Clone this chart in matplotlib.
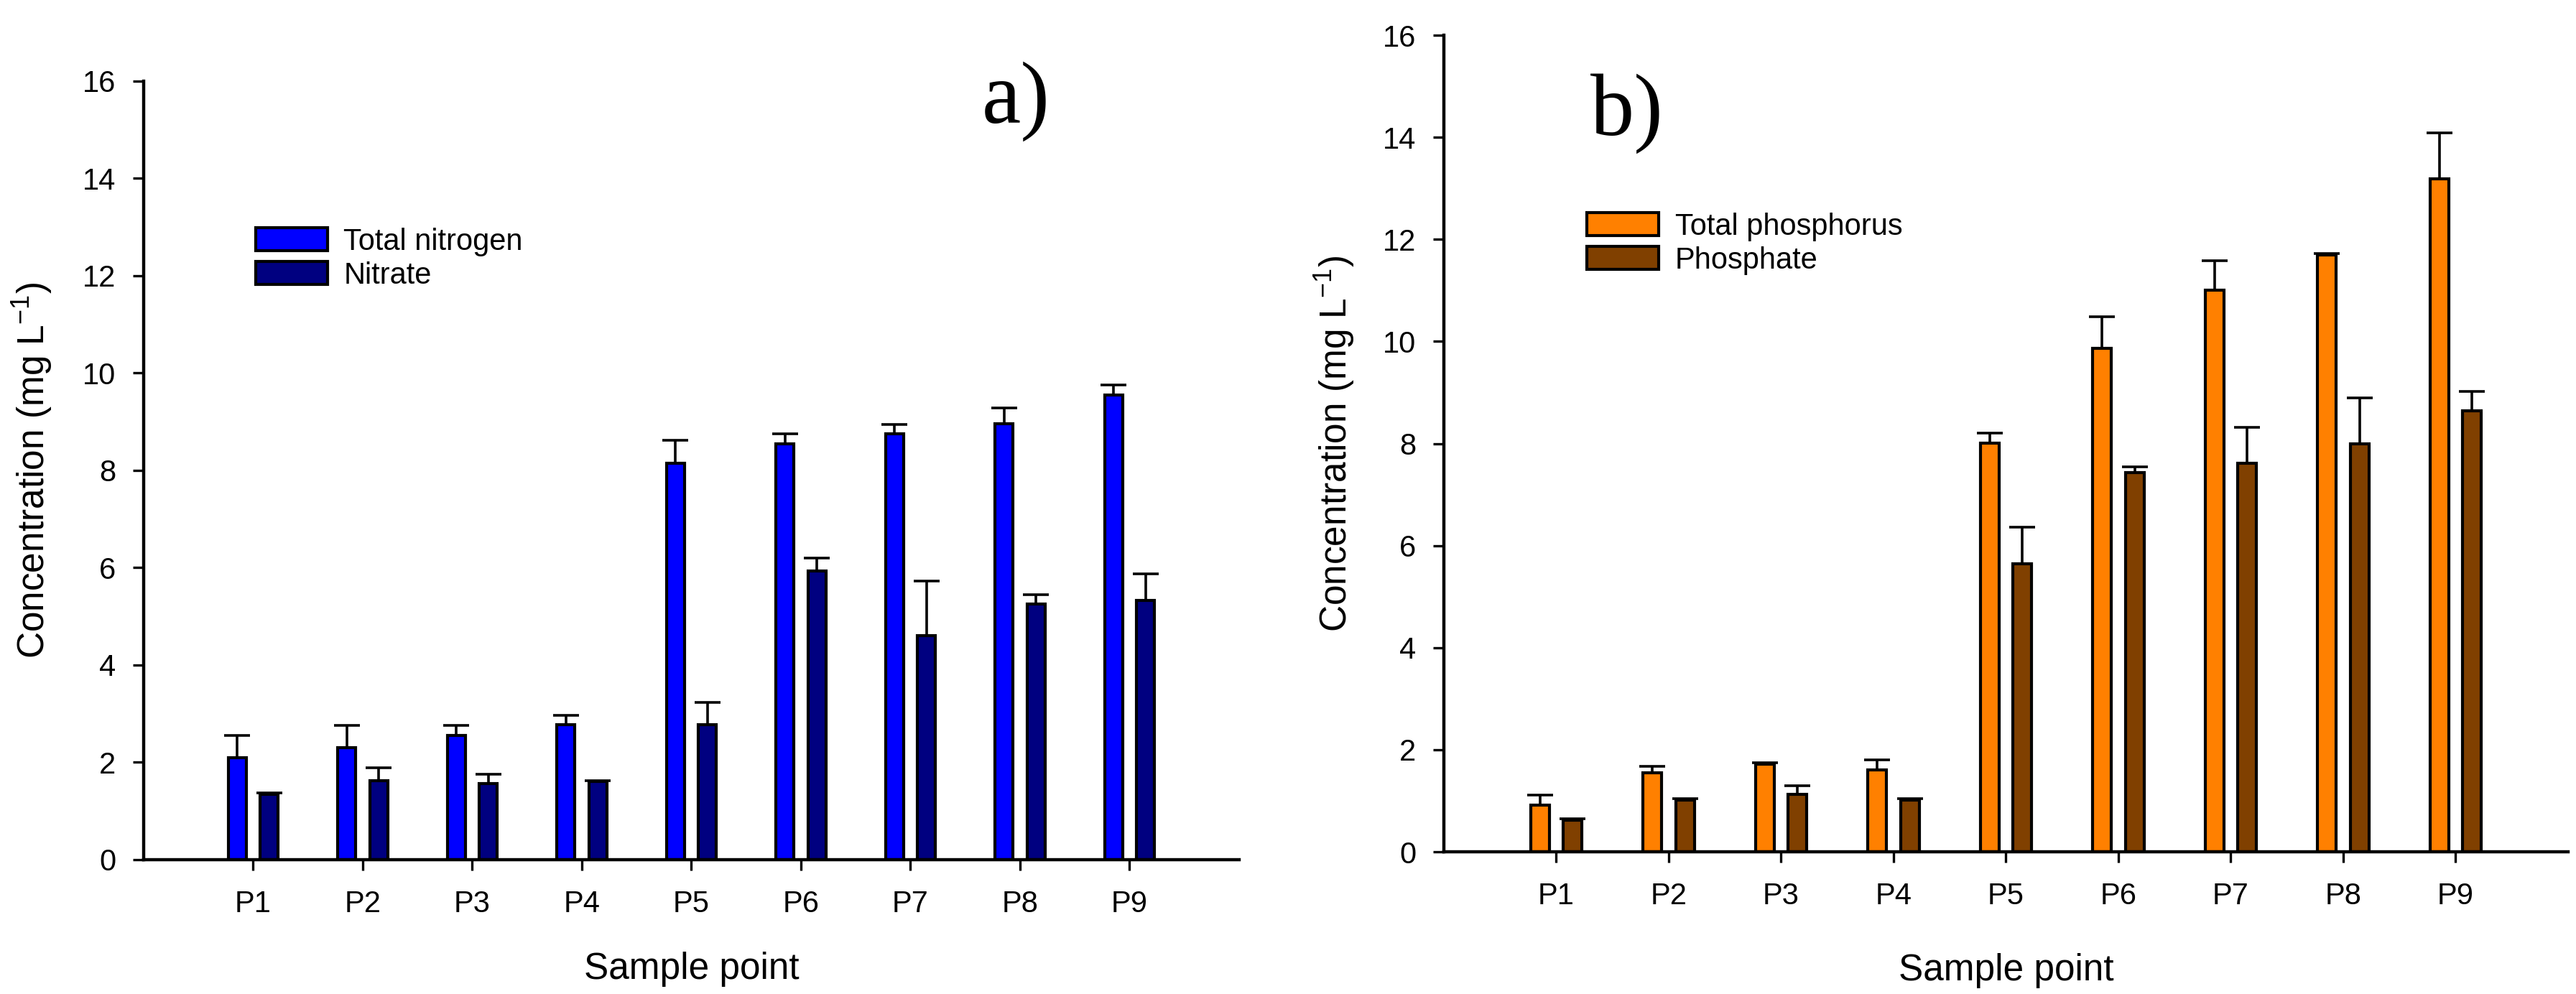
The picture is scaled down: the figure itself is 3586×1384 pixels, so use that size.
import matplotlib
matplotlib.use("Agg")
import matplotlib.pyplot as plt
import numpy as np

plt.rcParams['font.family'] = ['Liberation Sans', 'DejaVu Sans']
plt.rcParams['mathtext.fontset'] = 'custom'
plt.rcParams['mathtext.rm'] = 'Liberation Sans'
plt.rcParams['mathtext.it'] = 'Liberation Sans:italic'

points = ['P1', 'P2', 'P3', 'P4', 'P5', 'P6', 'P7', 'P8', 'P9']

# a) nitrogen
total_nitrogen = [2.09, 2.30, 2.56, 2.77, 8.15, 8.54, 8.76, 8.96, 9.55]
total_nitrogen_err = [0.47, 0.46, 0.20, 0.19, 0.47, 0.21, 0.19, 0.33, 0.21]
nitrate = [1.35, 1.62, 1.57, 1.61, 2.77, 5.93, 4.60, 5.26, 5.33]
nitrate_err = [0.02, 0.27, 0.18, 0.02, 0.46, 0.27, 1.13, 0.19, 0.54]

# b) phosphorus
total_phosphorus = [0.91, 1.55, 1.71, 1.61, 8.01, 9.86, 11.01, 11.70, 13.19]
total_phosphorus_err = [0.20, 0.13, 0.03, 0.19, 0.19, 0.63, 0.57, 0.02, 0.89]
phosphate = [0.62, 1.02, 1.12, 1.02, 5.65, 7.43, 7.62, 7.99, 8.64]
phosphate_err = [0.03, 0.02, 0.18, 0.02, 0.71, 0.11, 0.70, 0.90, 0.38]

FS = 30
BAR_W = 0.165
OFF = 0.145


def draw_panel(ax, s1, e1, s2, e2, c1, c2, lab1, lab2, tag, tag_pos, leg_pos,
               ylab_x, xlab_y):
    x = np.arange(len(points))
    ax.bar(x - OFF, s1, BAR_W, color=c1, edgecolor='black', linewidth=3,
           label=lab1, zorder=2)
    ax.bar(x + OFF, s2, BAR_W, color=c2, edgecolor='black', linewidth=3,
           label=lab2, zorder=2)
    for xx, v, e in ((x - OFF, s1, e1), (x + OFF, s2, e2)):
        top = np.array(v) + np.array(e)
        ax.vlines(xx, v, top, color='black', linewidth=2.6, zorder=3)
        ax.plot(xx, top, linestyle='none', marker='_', markersize=26,
                markeredgewidth=2.6, color='black', zorder=3)

    ax.set_xlim(-1, 9)
    ax.set_ylim(0, 16)
    ax.set_yticks(np.arange(0, 17, 2))
    ax.set_xticks(x)
    ax.set_xticklabels(points)
    for side in ('top', 'right'):
        ax.spines[side].set_visible(False)
    for side in ('left', 'bottom'):
        ax.spines[side].set_linewidth(3.2)
    ax.tick_params(axis='y', direction='out', length=11, width=2.4,
                   labelsize=FS, pad=17)
    ax.tick_params(axis='x', direction='out', length=11, width=2.4,
                   labelsize=FS, pad=19)

    ax.set_ylabel('Concentration (mg L$^{-1}$)', fontsize=37)
    ax.yaxis.set_label_coords(ylab_x, 0.5)
    ax.set_xlabel('Sample point', fontsize=37)
    ax.xaxis.set_label_coords(0.5, xlab_y)

    ax.legend(loc='upper left', bbox_to_anchor=leg_pos, frameon=False,
              fontsize=FS, handlelength=2.4, handleheight=0.8,
              handletextpad=0.55, labelspacing=0.17, borderpad=0,
              borderaxespad=0)
    ax.text(tag_pos[0], tag_pos[1], tag, transform=ax.transAxes,
            fontsize=88, family='Liberation Serif', ha='left',
            va='baseline', color='black')


fig = plt.figure(figsize=(35.86, 13.84), dpi=100)
ax1 = fig.add_axes([0.05577, 0.13512, 0.42526, 0.78324])
ax2 = fig.add_axes([0.56051, 0.14306, 0.43642, 0.82153])

draw_panel(ax1, total_nitrogen, total_nitrogen_err, nitrate, nitrate_err,
           '#0000FF', '#000080', 'Total nitrogen', 'Nitrate',
           'a)', (0.765, 0.947), (0.102, 0.812), -0.081, -0.118)
draw_panel(ax2, total_phosphorus, total_phosphorus_err, phosphate,
           phosphate_err, '#FF8000', '#804000', 'Total phosphorus',
           'Phosphate', 'b)', (0.130, 0.878), (0.127, 0.783), -0.077, -0.124)

fig.savefig('out.png', dpi=100)
